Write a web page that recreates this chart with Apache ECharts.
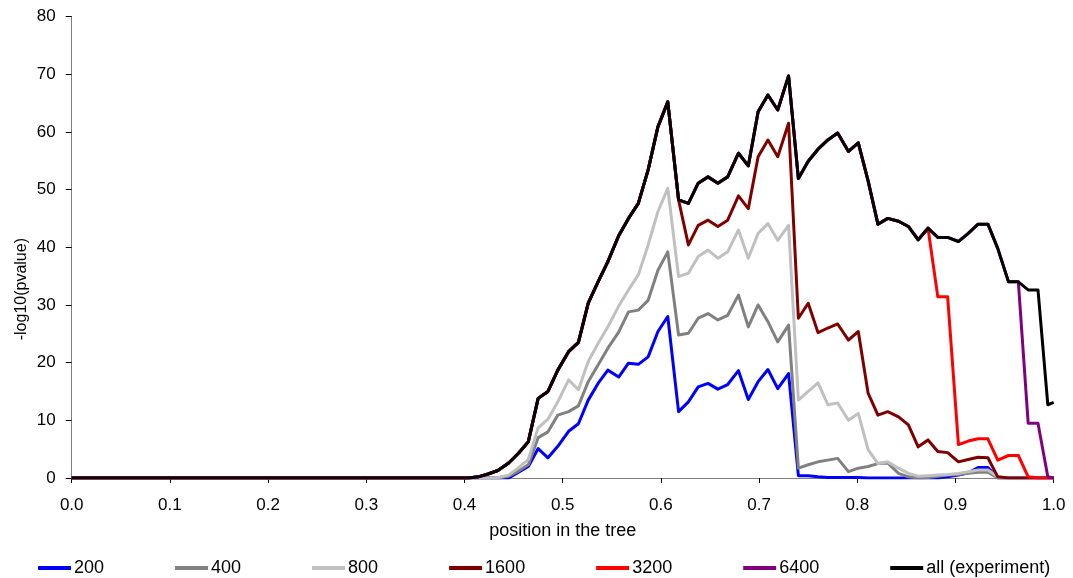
<!DOCTYPE html>
<html>
<head>
<meta charset="utf-8">
<script src="https://cdn.jsdelivr.net/npm/echarts@6/dist/echarts.min.js"></script>
<style>html,body{margin:0;padding:0;background:#fff}#c{width:1073px;height:578px}</style>
</head>
<body>
<div id="c"></div>
<script>
// x positions of the points (first point at 0, then the marker positions 0.404 ... 1.0)
const positions = [0, 0.404, 0.414, 0.424, 0.434, 0.445, 0.455, 0.465, 0.475, 0.485, 0.495,
  0.506, 0.516, 0.526, 0.536, 0.546, 0.557, 0.567, 0.577, 0.587, 0.597,
  0.607, 0.618, 0.628, 0.638, 0.648, 0.658, 0.668, 0.679, 0.689, 0.699,
  0.709, 0.719, 0.730, 0.740, 0.750, 0.760, 0.770, 0.780, 0.791, 0.801,
  0.811, 0.821, 0.831, 0.842, 0.852, 0.862, 0.872, 0.882, 0.892, 0.903,
  0.913, 0.923, 0.933, 0.943, 0.954, 0.964, 0.974, 0.984, 0.994, 1.0];

const seriesNames = ['200', '400', '800', '1600', '3200', '6400', 'all (experiment)'];

const s200 = [0, 0, 0, 0, 0, 0, 1.0, 2.0, 5.1, 3.5, 5.5,
  8.1, 9.4, 13.5, 16.4, 18.7, 17.5, 19.9, 19.7, 21.0, 25.4,
  28.0, 11.5, 13.2, 15.8, 16.4, 15.4, 16.2, 18.6, 13.6, 16.7,
  18.8, 15.5, 18.1, 0.4, 0.4, 0.2, 0.1, 0.1, 0.1, 0.1,
  0, 0, 0, 0, 0, 0, 0, 0, 0.2, 0.5,
  0.9, 1.8, 1.8, 0, 0, 0, 0, 0, 0, 0];

const s400 = [0, 0, 0, 0, 0, 0.3, 1.2, 2.3, 7.0, 8.0, 10.9,
  11.5, 12.5, 16.7, 19.6, 22.5, 25.3, 28.8, 29.1, 30.8, 36.0,
  39.2, 24.8, 25.1, 27.7, 28.5, 27.4, 28.2, 31.7, 26.2, 30.0,
  27.1, 23.6, 26.5, 1.7, 2.3, 2.8, 3.1, 3.4, 1.1, 1.7,
  2.0, 2.5, 2.6, 0.8, 0.2, 0, 0.1, 0.3, 0.5, 0.6,
  0.8, 1.0, 1.0, 0, 0, 0, 0, 0, 0, 0];

const s800 = [0, 0, 0, 0, 0.1, 0.5, 1.8, 3.2, 8.7, 10.2, 13.2,
  17.0, 15.3, 20.2, 23.3, 26.2, 29.8, 32.6, 35.2, 40.4, 46.2,
  50.2, 34.9, 35.5, 38.4, 39.5, 38.1, 39.2, 43.0, 38.1, 42.4,
  44.1, 41.2, 43.8, 13.5, 15.0, 16.5, 12.7, 13.0, 10.0, 11.2,
  4.9, 2.5, 2.8, 1.7, 0.8, 0.3, 0.4, 0.5, 0.6, 0.8,
  1.1, 1.4, 1.4, 0.2, 0, 0, 0, 0, 0, 0];

const s1600 = [0, 0, 0.2, 0.7, 1.3, 2.6, 4.3, 6.3, 13.8, 15.0, 18.7,
  21.9, 23.5, 30.3, 34.0, 37.5, 42.0, 45.0, 47.6, 53.4, 60.9,
  65.2, 48.2, 40.4, 43.8, 44.7, 43.6, 44.7, 48.9, 46.7, 55.7,
  58.6, 55.7, 61.5, 27.7, 30.3, 25.2, 26.0, 26.7, 23.9, 25.4,
  14.7, 10.9, 11.5, 10.6, 9.2, 5.4, 6.6, 4.6, 4.4, 2.8,
  3.2, 3.6, 3.5, 0.2, 0, 0, 0, 0, 0, 0];

const s3200 = [0, 0, 0.2, 0.7, 1.3, 2.6, 4.3, 6.3, 13.8, 15.0, 18.7,
  21.9, 23.5, 30.3, 34.0, 37.5, 42.0, 45.0, 47.6, 53.4, 60.9,
  65.2, 48.2, 47.6, 51.1, 52.2, 51.1, 52.2, 56.3, 54.1, 63.5,
  66.4, 63.8, 69.7, 51.9, 54.9, 57.0, 58.6, 59.8, 56.6, 58.1,
  51.5, 44.0, 45.0, 44.5, 43.6, 41.3, 43.3, 31.4, 31.4, 5.8,
  6.4, 6.8, 6.8, 3.1, 3.9, 3.9, 0.2, 0, 0, 0];

const s6400 = [0, 0, 0.2, 0.7, 1.3, 2.6, 4.3, 6.3, 13.8, 15.0, 18.7,
  21.9, 23.5, 30.3, 34.0, 37.5, 42.0, 45.0, 47.6, 53.4, 60.9,
  65.2, 48.2, 47.6, 51.1, 52.2, 51.1, 52.2, 56.3, 54.1, 63.5,
  66.4, 63.8, 69.7, 51.9, 54.9, 57.0, 58.6, 59.8, 56.6, 58.1,
  51.5, 44.0, 45.0, 44.5, 43.6, 41.3, 43.3, 41.7, 41.7, 41.0,
  42.4, 44.0, 44.0, 39.8, 34.0, 34.0, 9.5, 9.5, 0.2, 0];

const sAll = [0, 0, 0.2, 0.7, 1.3, 2.6, 4.3, 6.3, 13.8, 15.0, 18.7,
  21.9, 23.5, 30.3, 34.0, 37.5, 42.0, 45.0, 47.6, 53.4, 60.9,
  65.2, 48.2, 47.6, 51.1, 52.2, 51.1, 52.2, 56.3, 54.1, 63.5,
  66.4, 63.8, 69.7, 51.9, 54.9, 57.0, 58.6, 59.8, 56.6, 58.1,
  51.5, 44.0, 45.0, 44.5, 43.6, 41.3, 43.3, 41.7, 41.7, 41.0,
  42.4, 44.0, 44.0, 39.8, 34.0, 34.0, 32.6, 32.6, 12.7, 13.1];

const xTicks = ['0.0','0.1','0.2','0.3','0.4','0.5','0.6','0.7','0.8','0.9','1.0'];
const yTicks = ['0','10','20','30','40','50','60','70','80'];

const colors = ['#0000FF', '#808080', '#C0C0C0', '#800000', '#FF0000', '#800080', '#000000'];
const values = [s200, s400, s800, s1600, s3200, s6400, sAll];

const FONT = 'Liberation Sans, Arial, sans-serif';

const chart = echarts.init(document.getElementById('c'), null, {renderer: 'canvas'});
chart.setOption({
  animation: false,
  backgroundColor: '#fff',
  color: colors,
  grid: {left: 71.7, right: 19.3, top: 16.5, bottom: 100, containLabel: false},
  xAxis: {
    type: 'value', min: 0, max: 1, interval: 0.1,
    name: 'position in the tree', nameLocation: 'middle', nameGap: 44,
    nameTextStyle: {fontFamily: FONT, fontSize: 18, color: '#000'},
    axisLine: {show: true, lineStyle: {color: '#808080', width: 1}},
    axisTick: {show: true, inside: false, length: 5, lineStyle: {color: '#000'}},
    axisLabel: {margin: 19, fontFamily: FONT, fontSize: 17, color: '#000',
      formatter: function (v) { return xTicks[Math.round(v * 10)]; }},
    splitLine: {show: false}
  },
  yAxis: {
    type: 'value', min: 0, max: 80, interval: 10,
    axisLine: {show: true, lineStyle: {color: '#808080', width: 1}},
    axisTick: {show: true, inside: false, length: 6, lineStyle: {color: '#000'}},
    axisLabel: {margin: 16, fontFamily: FONT, fontSize: 17, color: '#000',
      formatter: function (v) { return yTicks[Math.round(v / 10)]; }},
    splitLine: {show: false}
  },
  legend: {
    orient: 'horizontal', left: 33, top: 554,
    itemWidth: 33, itemHeight: 4, itemGap: 71, icon: 'rect',
    textStyle: {fontFamily: FONT, fontSize: 18, color: '#000', padding: [0, 0, 0, -2]},
    data: seriesNames
  },
  graphic: [{
    type: 'text', left: 14, top: 238, rotation: Math.PI / 2,
    style: {text: '-log10(pvalue)', fontFamily: FONT, fontSize: 16, fill: '#000',
      textAlign: 'center', textVerticalAlign: 'middle'}
  }],
  series: seriesNames.map(function (name, k) {
    return {
      name: name, type: 'line', showSymbol: false, symbol: 'none',
      clip: true, z: 2 + k,
      lineStyle: {width: 3, color: colors[k], join: 'round'},
      itemStyle: {color: colors[k]},
      data: positions.map(function (x, i) { return [x, values[k][i]]; })
    };
  })
});
</script>
</body>
</html>
